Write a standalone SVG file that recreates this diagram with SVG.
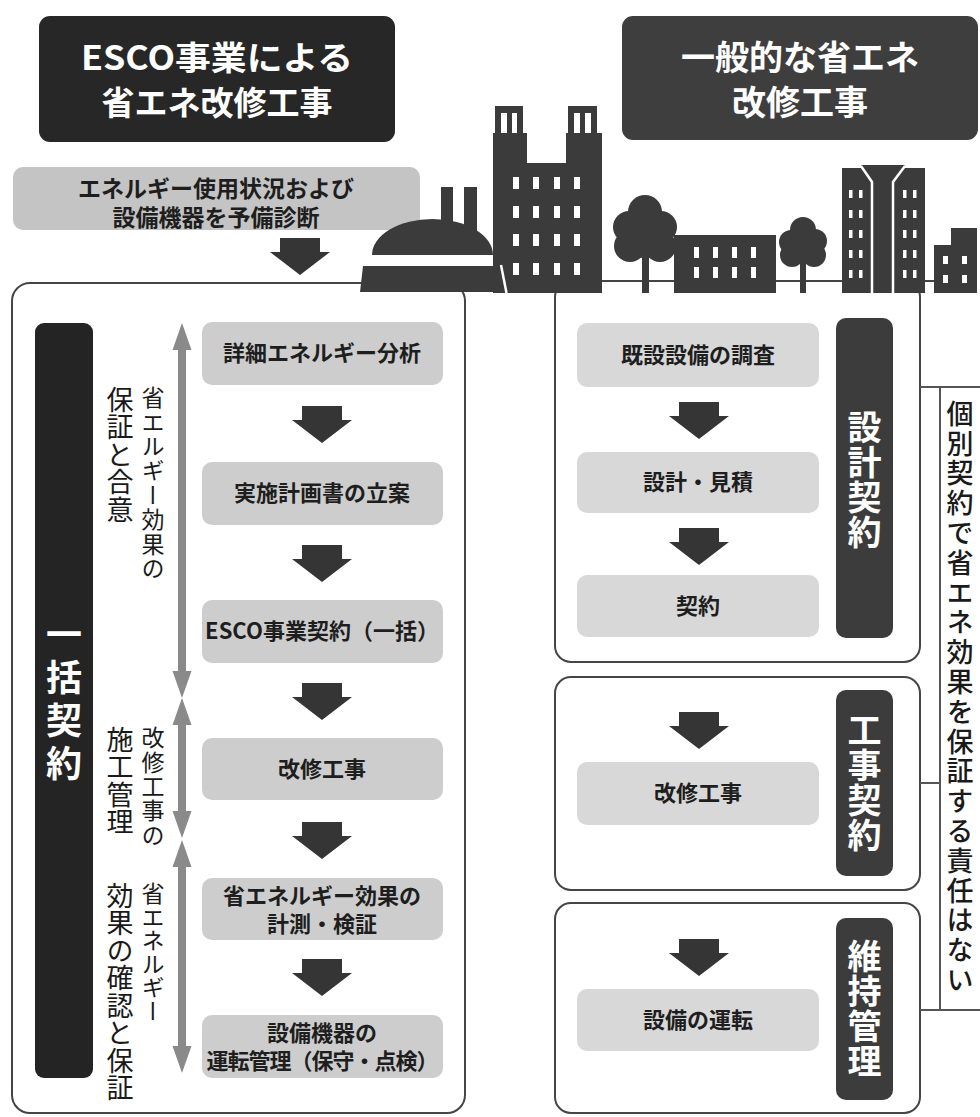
<svg xmlns="http://www.w3.org/2000/svg" width="980" height="1117" viewBox="0 0 980 1117">
  <style>
    .jp { font-family: "Noto Sans CJK JP", "Noto Sans", sans-serif; }
    .head { font-size: 33px; font-weight: 700; fill: #ffffff; text-anchor: middle; }
    .box { font-size: 22px; font-weight: 700; fill: #1e1e1e; text-anchor: middle; }
    .vlab { writing-mode: vertical-rl; fill: #1a1a1a; }
    .vbar { writing-mode: vertical-rl; fill: #ffffff; font-weight: 700; text-anchor: middle; }
    .flowL { fill: #cdcdcd; }
    .flowR { fill: #d8d8d8; }
    .panel { fill: #ffffff; stroke: #454545; stroke-width: 2; }
    .bld { fill: #3b3b3b; }
    .win { fill: #ffffff; }
    .line { stroke: #555555; stroke-width: 2; fill: none; }
  </style>
  <defs>
    <!-- block arrow pointing down, origin at top centre -->
    <path id="down" d="M-20,0 H20 V14 H30 L0,37 L-30,14 H-20 Z" fill="#353535"/>
  </defs>

  <rect width="980" height="1117" fill="#ffffff"/>

  <!-- panels -->
  <g id="panel-esco">
    <rect class="panel" x="12" y="283" width="453" height="830" rx="18"/>
  </g>
  <g id="panel-design">
    <rect class="panel" x="555" y="281" width="365" height="381" rx="16"/>
  </g>
  <g id="panel-construction">
    <rect class="panel" x="555" y="677" width="365" height="213" rx="16"/>
  </g>
  <g id="panel-maintenance">
    <rect class="panel" x="555" y="903" width="365" height="210" rx="16"/>
  </g>

  <!-- headers -->
  <g id="header-esco">
    <rect x="39" y="16" width="356" height="126" rx="11" fill="#272727"/>
    <text class="jp head" x="217" y="70" textLength="272" lengthAdjust="spacingAndGlyphs">ESCO事業による</text>
    <text class="jp head" x="217" y="115">省エネ改修工事</text>
  </g>
  <g id="header-general">
    <rect x="622" y="16" width="356" height="124" rx="11" fill="#3e3e3e"/>
    <text class="jp head" x="800" y="70" style="font-size:34px">一般的な省エネ</text>
    <text class="jp head" x="800" y="115" style="font-size:34px">改修工事</text>
  </g>

  <!-- preliminary diagnosis -->
  <g id="node-prediag">
    <rect x="13" y="167" width="407" height="63" rx="10" fill="#c4c4c4"/>
    <text class="jp box" style="font-size:23px"><tspan x="216" y="197">エネルギー使用状況および</tspan><tspan x="216" y="226">設備機器を予備診断</tspan></text>
  </g>

  <!-- skyline -->
  <g id="skyline">
    <line x1="602" y1="281" x2="934" y2="281" stroke="#444444" stroke-width="2"/>
    <!-- twin-tower block -->
    <g class="bld">
      <rect x="493" y="163" width="109" height="130"/>
      <rect x="493" y="133" width="34" height="31"/>
      <rect x="566" y="133" width="36" height="31"/>
      <rect x="495" y="106" width="28" height="28"/>
      <rect x="568" y="106" width="29" height="28"/>
    </g>
    <g class="win">
      <rect x="501" y="113" width="6" height="20"/><rect x="512" y="113" width="5" height="20"/>
      <rect x="574" y="113" width="6" height="20"/><rect x="585" y="113" width="6" height="20"/>
      <rect x="513" y="177" width="6" height="12"/><rect x="533" y="177" width="6" height="12"/><rect x="554" y="177" width="6" height="12"/><rect x="574" y="177" width="6" height="12"/>
      <rect x="513" y="206" width="6" height="12"/><rect x="533" y="206" width="6" height="12"/><rect x="554" y="206" width="6" height="12"/><rect x="574" y="206" width="6" height="12"/>
      <rect x="513" y="234" width="6" height="12"/><rect x="533" y="234" width="6" height="12"/><rect x="554" y="234" width="6" height="12"/><rect x="574" y="234" width="6" height="12"/>
      <rect x="513" y="263" width="6" height="12"/><rect x="533" y="263" width="6" height="12"/><rect x="554" y="263" width="6" height="12"/><rect x="574" y="263" width="6" height="12"/>
    </g>
    <!-- domed hall -->
    <g class="bld">
      <rect x="441" y="187" width="12" height="50"/>
      <rect x="464" y="187" width="13" height="55"/>
      <path d="M372,255 A60.5,36 0 0 1 493,255 Z"/>
      <path d="M360,292 L363,266 L500,266 L505,292 Z"/>
    </g>
    <line x1="501" y1="265" x2="506.5" y2="293" stroke="#ffffff" stroke-width="2.5"/>
    <!-- tree -->
    <g class="bld">
      <rect x="642" y="250" width="7" height="43"/>
      <circle cx="645" cy="212" r="17"/>
      <circle cx="629" cy="227" r="16"/>
      <circle cx="661" cy="227" r="16"/>
      <circle cx="630" cy="246" r="16"/>
      <circle cx="660" cy="246" r="16"/>
      <circle cx="645" cy="238" r="20"/>
    </g>
    <!-- low block -->
    <rect class="bld" x="674" y="235" width="102" height="58"/>
    <g class="win">
      <rect x="694" y="247" width="5" height="11"/><rect x="713" y="247" width="5" height="11"/><rect x="732" y="247" width="5" height="11"/><rect x="751" y="247" width="5" height="11"/>
      <rect x="694" y="267" width="5" height="11"/><rect x="713" y="267" width="5" height="11"/><rect x="732" y="267" width="5" height="11"/><rect x="751" y="267" width="5" height="11"/>
    </g>
    <!-- small tree -->
    <g class="bld">
      <rect x="800" y="258" width="6" height="35"/>
      <circle cx="803" cy="230" r="13"/>
      <circle cx="791" cy="242" r="12"/>
      <circle cx="815" cy="241" r="12"/>
      <circle cx="792" cy="255" r="12"/>
      <circle cx="814" cy="255" r="12"/>
      <circle cx="803" cy="247" r="15"/>
    </g>
    <!-- split tower -->
    <g class="bld">
      <rect x="842" y="168" width="83" height="125"/>
      <path d="M861,165 H905 L896,178 H870 Z"/>
    </g>
    <polyline points="861,166 872,182 872,294" stroke="#ffffff" stroke-width="2.5" fill="none"/>
    <polyline points="905,166 893,182 893,294" stroke="#ffffff" stroke-width="2.5" fill="none"/>
    <g class="win">
      <rect x="849" y="190" width="3.5" height="8"/><rect x="859" y="190" width="3.5" height="8"/><rect x="903" y="190" width="3.5" height="8"/><rect x="913" y="190" width="3.5" height="8"/>
      <rect x="849" y="210" width="3.5" height="8"/><rect x="859" y="210" width="3.5" height="8"/><rect x="903" y="210" width="3.5" height="8"/><rect x="913" y="210" width="3.5" height="8"/>
      <rect x="849" y="230" width="3.5" height="8"/><rect x="859" y="230" width="3.5" height="8"/><rect x="903" y="230" width="3.5" height="8"/><rect x="913" y="230" width="3.5" height="8"/>
      <rect x="849" y="250" width="3.5" height="8"/><rect x="859" y="250" width="3.5" height="8"/><rect x="903" y="250" width="3.5" height="8"/><rect x="913" y="250" width="3.5" height="8"/>
      <rect x="849" y="270" width="3.5" height="8"/><rect x="859" y="270" width="3.5" height="8"/><rect x="903" y="270" width="3.5" height="8"/><rect x="913" y="270" width="3.5" height="8"/>
    </g>
    <!-- stepped block -->
    <path class="bld" d="M934,293 V245 H951 V228 H977 V293 Z"/>
    <g class="win">
      <rect x="943" y="256" width="5" height="8"/><rect x="962" y="256" width="5" height="8"/>
      <rect x="943" y="275" width="5" height="8"/><rect x="962" y="275" width="5" height="8"/>
    </g>
  </g>

  <!-- ESCO flow -->
  <g id="bar-lump">
    <rect x="35" y="323" width="58" height="755" rx="9" fill="#242424"/>
    <text class="jp vbar" x="64" y="702" style="font-size:36px; letter-spacing:7px">一括契約</text>
  </g>

  <g id="node-e1"><rect class="flowL" x="202" y="322" width="241" height="63" rx="10"/><text class="jp box" x="322" y="361">詳細エネルギー分析</text></g>
  <g id="node-e2"><rect class="flowL" x="202" y="462" width="241" height="63" rx="10"/><text class="jp box" x="322" y="501">実施計画書の立案</text></g>
  <g id="node-e3"><rect class="flowL" x="202" y="600" width="241" height="63" rx="10"/><text class="jp box" x="322" y="639">ESCO事業契約（一括）</text></g>
  <g id="node-e4"><rect class="flowL" x="202" y="738" width="241" height="62" rx="10"/><text class="jp box" x="322" y="777">改修工事</text></g>
  <g id="node-e5"><rect class="flowL" x="202" y="878" width="241" height="62" rx="10"/><text class="jp box"><tspan x="322" y="904">省エネルギー効果の</tspan><tspan x="322" y="932">計測・検証</tspan></text></g>
  <g id="node-e6"><rect class="flowL" x="202" y="1015" width="241" height="63" rx="10"/><text class="jp box"><tspan x="322" y="1041">設備機器の</tspan><tspan x="322" y="1069" style="letter-spacing:-1px">運転管理（保守・点検）</tspan></text></g>

  <!-- general flow -->
  <g id="bar-design">
    <rect x="836" y="318" width="57" height="320" rx="10" fill="#3c3c3c"/>
    <text class="jp vbar" x="864.5" y="480" style="font-size:34px; letter-spacing:1px">設計契約</text>
  </g>
  <g id="bar-construction">
    <rect x="836" y="690" width="57" height="186" rx="10" fill="#3c3c3c"/>
    <text class="jp vbar" x="864.5" y="783" style="font-size:34px; letter-spacing:1px">工事契約</text>
  </g>
  <g id="bar-maintenance">
    <rect x="836" y="918" width="57" height="182" rx="10" fill="#3c3c3c"/>
    <text class="jp vbar" x="864.5" y="1009" style="font-size:34px; letter-spacing:1px">維持管理</text>
  </g>

  <g id="node-g1"><rect class="flowR" x="577" y="323" width="242" height="64" rx="10"/><text class="jp box" x="698" y="363">既設設備の調査</text></g>
  <g id="node-g2"><rect class="flowR" x="577" y="452" width="242" height="61" rx="10"/><text class="jp box" x="698" y="490">設計・見積</text></g>
  <g id="node-g3"><rect class="flowR" x="577" y="575" width="242" height="62" rx="10"/><text class="jp box" x="698" y="614">契約</text></g>
  <g id="node-g4"><rect class="flowR" x="577" y="762" width="242" height="63" rx="10"/><text class="jp box" x="698" y="801">改修工事</text></g>
  <g id="node-g5"><rect class="flowR" x="577" y="989" width="242" height="62" rx="10"/><text class="jp box" x="698" y="1028">設備の運転</text></g>

  <!-- side notes -->
  <g id="label-guarantee">
    <text class="jp vlab" x="153" y="386" style="font-size:23px; letter-spacing:1.4px">省エルギー効果の</text>
    <text class="jp vlab" x="120" y="386" style="font-size:27px; letter-spacing:0.5px">保証と合意</text>
  </g>
  <g id="label-supervision">
    <text class="jp vlab" x="153" y="726" style="font-size:23px; letter-spacing:1.4px">改修工事の</text>
    <text class="jp vlab" x="120" y="726" style="font-size:27px; letter-spacing:0.5px">施工管理</text>
  </g>
  <g id="label-verify">
    <text class="jp vlab" x="153" y="882" style="font-size:23px; letter-spacing:0.5px">省エネルギー</text>
    <text class="jp vlab" x="120" y="882" style="font-size:27px; letter-spacing:0.5px">効果の確認と保証</text>
  </g>
  <g id="label-responsibility">
    <text class="jp vlab" x="960" y="400" style="font-size:27px; font-weight:500; letter-spacing:2.8px">個別契約で省エネ効果を保証する責任はない</text>
  </g>

  <!-- connectors -->
  <g id="connectors">
    <use href="#down" x="300" y="238"/>
    <use href="#down" x="322" y="406"/>
    <use href="#down" x="322" y="545"/>
    <use href="#down" x="322" y="683"/>
    <use href="#down" x="322" y="822"/>
    <use href="#down" x="322" y="959"/>
    <use href="#down" x="699" y="402"/>
    <use href="#down" x="699" y="528"/>
    <use href="#down" x="699" y="712"/>
    <use href="#down" x="699" y="939"/>

    <!-- span arrows -->
    <g fill="#8a8a8a">
      <path d="M182,323 L191.5,350 H186 V671 H191.5 L182,698 L172.5,671 H178 V350 H172.5 Z"/>
      <path d="M182,698 L191.5,725 H186 V811 H191.5 L182,838 L172.5,811 H178 V725 H172.5 Z"/>
      <path d="M182,840 L191.5,867 H186 V1046 H191.5 L182,1073 L172.5,1046 H178 V867 H172.5 Z"/>
    </g>

    <!-- bracket -->
    <path class="line" d="M920,387 H980 M940,387 V1010 M920,1010 H980 M920,783 H940"/>
  </g>
</svg>
